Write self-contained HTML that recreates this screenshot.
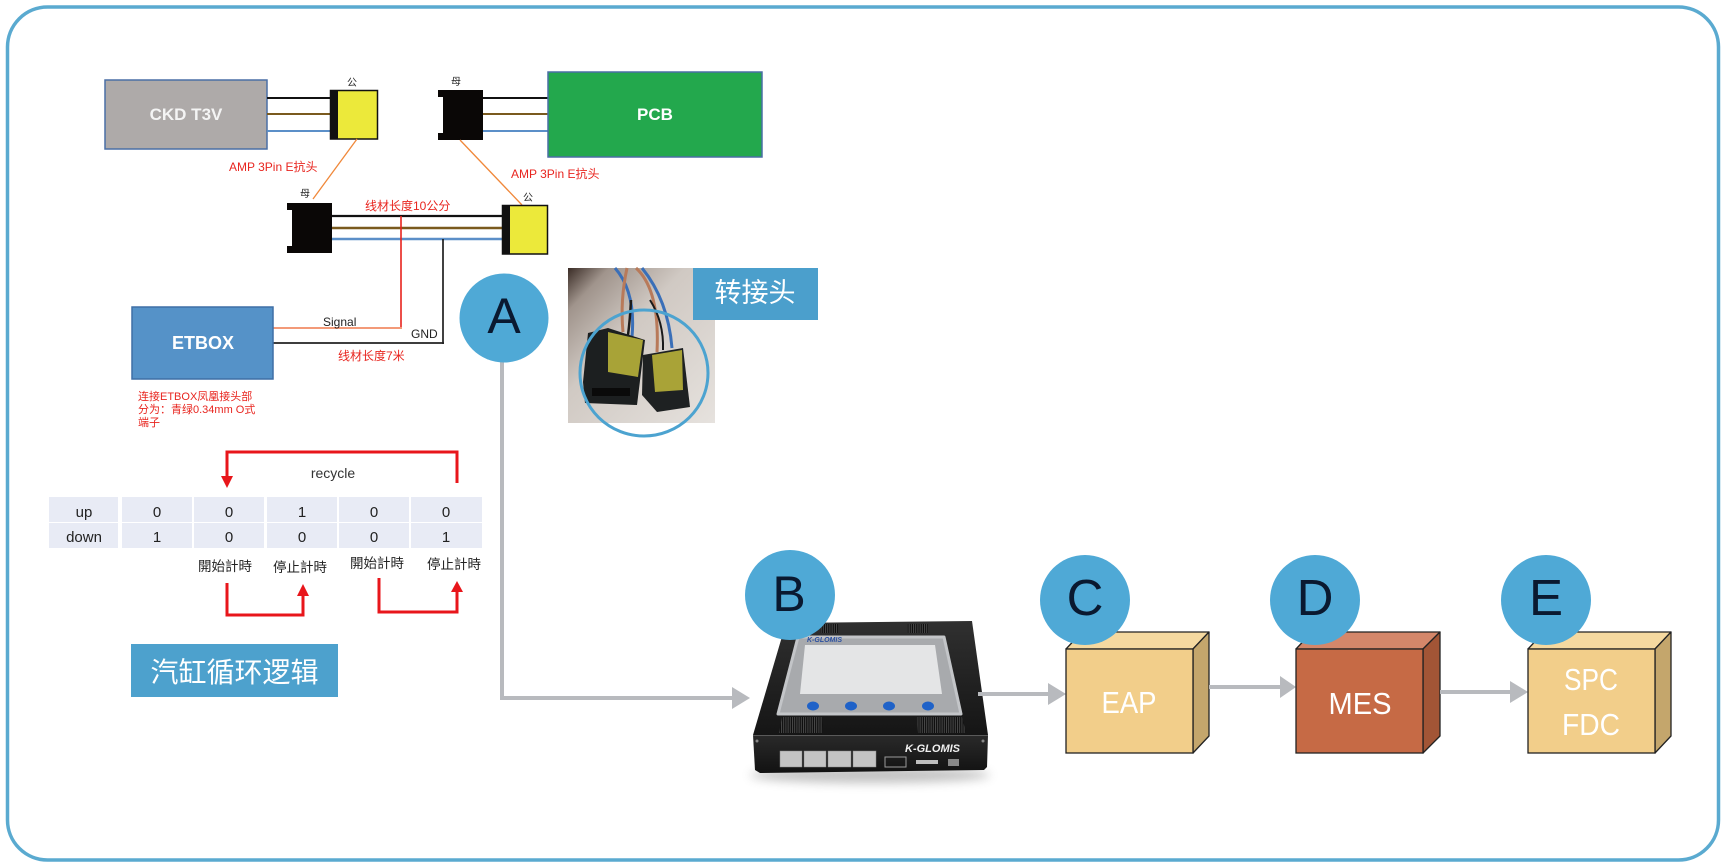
<!DOCTYPE html>
<html>
<head>
<meta charset="utf-8">
<style>
html,body{margin:0;padding:0;background:#fff;}
body{width:1728px;height:867px;overflow:hidden;}
svg{display:block;}
text{font-family:"Liberation Sans","Noto Sans CJK SC",sans-serif;}
</style>
</head>
<body>
<svg width="1728" height="867" viewBox="0 0 1728 867" xmlns="http://www.w3.org/2000/svg">
<defs>
  <linearGradient id="photoBg" x1="0" y1="0" x2="1" y2="1">
    <stop offset="0" stop-color="#3a2c26"/>
    <stop offset="0.14" stop-color="#a0948c"/>
    <stop offset="0.4" stop-color="#d0c9c3"/>
    <stop offset="1" stop-color="#e6e2de"/>
  </linearGradient>
  <linearGradient id="topFace" x1="0" y1="0" x2="0" y2="1">
    <stop offset="0" stop-color="#303030"/>
    <stop offset="1" stop-color="#151515"/>
  </linearGradient>
  <linearGradient id="frontFace" x1="0" y1="0" x2="0" y2="1">
    <stop offset="0" stop-color="#2a2a2a"/>
    <stop offset="1" stop-color="#121212"/>
  </linearGradient>
  <pattern id="vent" width="2.2" height="4" patternUnits="userSpaceOnUse">
    <rect width="1.1" height="4" fill="#4a4a4a"/>
    <rect x="1.1" width="1.1" height="4" fill="#0c0c0c"/>
  </pattern>
  <filter id="blur" x="-20%" y="-200%" width="140%" height="500%"><feGaussianBlur stdDeviation="5"/></filter>
</defs>

<!-- outer frame -->
<rect x="7.5" y="7" width="1711" height="853" rx="40" ry="40" fill="#fff" stroke="#5aaad0" stroke-width="3.5"/>

<!-- ===== wiring diagram ===== -->
<rect x="105" y="80" width="162" height="69" fill="#aeaaa9" stroke="#4a6fa5" stroke-width="1.5"/>
<text x="186" y="120" font-size="17" font-weight="bold" fill="#f4f4f4" text-anchor="middle">CKD T3V</text>

<line x1="267" y1="98" x2="331" y2="98" stroke="#111" stroke-width="2"/>
<line x1="267" y1="114" x2="331" y2="114" stroke="#7a5a1e" stroke-width="2"/>
<line x1="267" y1="131" x2="331" y2="131" stroke="#5b8fc8" stroke-width="2"/>

<rect x="330.5" y="90.5" width="47" height="48.5" fill="#ece93a" stroke="#111" stroke-width="1.5"/>
<rect x="330" y="90" width="8" height="49.5" fill="#111"/>
<text x="352" y="86" font-size="10" fill="#222" text-anchor="middle">公</text>

<path d="M438,90 H483 V140 H438 V133 H443 V97 H438 Z" fill="#0a0706"/>
<text x="456" y="85" font-size="10" fill="#222" text-anchor="middle">母</text>

<line x1="483" y1="98" x2="549" y2="98" stroke="#111" stroke-width="2"/>
<line x1="483" y1="114" x2="549" y2="114" stroke="#7a5a1e" stroke-width="2"/>
<line x1="483" y1="131" x2="549" y2="131" stroke="#5b8fc8" stroke-width="2"/>

<rect x="548" y="72" width="214" height="85" fill="#23a84d" stroke="#4a6fa5" stroke-width="1.5"/>
<text x="655" y="120" font-size="17" font-weight="bold" fill="#fff" text-anchor="middle">PCB</text>

<line x1="357" y1="139" x2="313" y2="199" stroke="#f0883a" stroke-width="1.3"/>
<line x1="460" y1="140" x2="522" y2="205" stroke="#f0883a" stroke-width="1.3"/>
<text x="229" y="171" font-size="12" fill="#e8251f">AMP 3Pin E抗头</text>
<text x="511" y="178" font-size="12" fill="#e8251f">AMP 3Pin E抗头</text>

<path d="M287,203 H332 V253 H287 V246 H292 V210 H287 Z" fill="#0a0706"/>
<text x="305" y="197" font-size="10" fill="#222" text-anchor="middle">母</text>

<line x1="332" y1="216" x2="503" y2="216" stroke="#111" stroke-width="2.2"/>
<line x1="332" y1="228" x2="503" y2="228" stroke="#7a5a1e" stroke-width="2.5"/>
<line x1="332" y1="239" x2="503" y2="239" stroke="#5b8fc8" stroke-width="2.5"/>

<rect x="502.5" y="205.5" width="45" height="48.5" fill="#ece93a" stroke="#111" stroke-width="1.5"/>
<rect x="502" y="205" width="8" height="49.5" fill="#111"/>
<text x="528" y="201" font-size="10" fill="#222" text-anchor="middle">公</text>

<text x="365" y="210" font-size="12" fill="#e8251f">线材长度10公分</text>

<line x1="401" y1="216" x2="401" y2="329" stroke="#e8231c" stroke-width="1.6"/>
<line x1="273" y1="328" x2="402" y2="328" stroke="#f39a78" stroke-width="2"/>
<line x1="443" y1="239" x2="443" y2="344" stroke="#111" stroke-width="1.6"/>
<line x1="273" y1="343" x2="444" y2="343" stroke="#222" stroke-width="1.8"/>
<text x="323" y="326" font-size="12" fill="#222">Signal</text>
<text x="411" y="338" font-size="12" fill="#222">GND</text>
<text x="338" y="360" font-size="12" fill="#e8251f">线材长度7米</text>

<rect x="132" y="307" width="141" height="72" fill="#5592c8" stroke="#3e6fa6" stroke-width="1.5"/>
<text x="203" y="349" font-size="18" font-weight="bold" fill="#fff" text-anchor="middle">ETBOX</text>
<text x="138" y="400" font-size="11" fill="#e8251f">连接ETBOX凤凰接头部</text>
<text x="138" y="413" font-size="11" fill="#e8251f">分为：青绿0.34mm O式</text>
<text x="138" y="426" font-size="11" fill="#e8251f">端子</text>

<!-- ===== photo ===== -->
<rect x="568" y="268" width="147" height="155" fill="url(#photoBg)"/>
<path d="M615,268 Q636,292 632,337" fill="none" stroke="#3a6fb8" stroke-width="3"/>
<path d="M627,268 Q620,300 623,332" fill="none" stroke="#b87a5a" stroke-width="3"/>
<path d="M631,300 Q630,320 628,335" fill="none" stroke="#1a1a1a" stroke-width="2.5"/>
<path d="M642,268 Q668,300 672,348" fill="none" stroke="#3a6fb8" stroke-width="3"/>
<path d="M636,268 Q660,290 657,352" fill="none" stroke="#b87a5a" stroke-width="3"/>
<path d="M650,300 Q664,322 663,350" fill="none" stroke="#1a1a1a" stroke-width="2"/>
<polygon points="588,333 608,328 645,340 637,405 585,403 583,382" fill="#1c1f20"/>
<polygon points="608,332 643,340 638,377 608,372" fill="#b8b13a" opacity="0.9"/>
<rect x="592" y="388" width="38" height="8" fill="#0a0a0a"/>
<polygon points="643,355 683,348 690,407 657,412 642,395" fill="#1e2122"/>
<polygon points="652,355 682,350 683,390 655,392" fill="#b8b13a" opacity="0.9"/>
<ellipse cx="644" cy="373" rx="64" ry="63" fill="none" stroke="#4ca3d0" stroke-width="3"/>

<rect x="693" y="268" width="125" height="52" fill="#4b9fcc"/>
<text x="755" y="302" font-size="27" fill="#fff" text-anchor="middle">转接头</text>

<!-- ===== cylinder logic ===== -->
<path d="M457,483 V452 H227 V478" fill="none" stroke="#e8161b" stroke-width="3"/>
<polygon points="221,476 233,476 227,488" fill="#e8161b"/>
<text x="333" y="478" font-size="14" fill="#333" text-anchor="middle">recycle</text>

<g fill="#e8ebf5">
  <rect x="49" y="497" width="69" height="25"/>
  <rect x="122" y="497" width="70" height="25"/>
  <rect x="194" y="497" width="70" height="25"/>
  <rect x="267" y="497" width="70" height="25"/>
  <rect x="339" y="497" width="70" height="25"/>
  <rect x="411" y="497" width="71" height="25"/>
  <rect x="49" y="523" width="69" height="25"/>
  <rect x="122" y="523" width="70" height="25"/>
  <rect x="194" y="523" width="70" height="25"/>
  <rect x="267" y="523" width="70" height="25"/>
  <rect x="339" y="523" width="70" height="25"/>
  <rect x="411" y="523" width="71" height="25"/>
</g>
<g font-size="15" fill="#222" text-anchor="middle">
  <text x="84" y="517">up</text>
  <text x="157" y="517">0</text>
  <text x="229" y="517">0</text>
  <text x="302" y="517">1</text>
  <text x="374" y="517">0</text>
  <text x="446" y="517">0</text>
  <text x="84" y="542">down</text>
  <text x="157" y="542">1</text>
  <text x="229" y="542">0</text>
  <text x="302" y="542">0</text>
  <text x="374" y="542">0</text>
  <text x="446" y="542">1</text>
</g>
<g font-size="13.5" fill="#222" text-anchor="middle">
  <text x="225" y="571">開始計時</text>
  <text x="300" y="572">停止計時</text>
  <text x="377" y="568">開始計時</text>
  <text x="454" y="569">停止計時</text>
</g>
<path d="M227,583 V615 H303 V595" fill="none" stroke="#e8161b" stroke-width="3"/>
<polygon points="297,596 309,596 303,584" fill="#e8161b"/>
<path d="M379,578 V612 H457 V591" fill="none" stroke="#e8161b" stroke-width="3"/>
<polygon points="451,592 463,592 457,581" fill="#e8161b"/>

<rect x="131" y="644" width="207" height="53" fill="#4da1cd"/>
<text x="234.5" y="682" font-size="28" fill="#fff" text-anchor="middle">汽缸循环逻辑</text>

<!-- ===== flow ===== -->
<path d="M502,350 V698 H734" fill="none" stroke="#b8babe" stroke-width="4"/>
<polygon points="732,687 750,698 732,709" fill="#b8babe"/>

<circle cx="504" cy="318" r="44.5" fill="#4fa9d6"/>
<text x="504" y="333" font-size="50" fill="#0a1930" text-anchor="middle">A</text>

<!-- device B -->
<ellipse cx="870" cy="775" rx="120" ry="8" fill="#777" opacity="0.45" filter="url(#blur)"/>
<polygon points="786,623 972,621 988,735 753,735" fill="url(#topFace)"/>
<polygon points="753,735 988,735 987,767 984,770 760,773 755,770" fill="url(#frontFace)"/>
<line x1="753" y1="735.5" x2="988" y2="735.5" stroke="#5a5a5a" stroke-width="1"/>
<rect x="820" y="624" width="18" height="9" fill="url(#vent)"/>
<rect x="907" y="624" width="22" height="9" fill="url(#vent)"/>
<polygon points="782,717 823,717 822,733 779,733" fill="url(#vent)"/>
<polygon points="917,717 962,717 966,733 918,733" fill="url(#vent)"/>
<polygon points="798,637 944,637 961,714 778,714" fill="#a8aaad" stroke="#c3c5c8" stroke-width="3" stroke-linejoin="round"/>
<polygon points="805,645 935,645 942,694 800,694" fill="#e4e5e6"/>
<text x="807" y="642" font-size="7" font-style="italic" font-weight="bold" fill="#2a4fa0">K-GLOMIS</text>
<g fill="#1f62c8">
  <ellipse cx="813" cy="706" rx="6" ry="4.5"/>
  <ellipse cx="851" cy="706" rx="6" ry="4.5"/>
  <ellipse cx="889" cy="706" rx="6" ry="4.5"/>
  <ellipse cx="928" cy="706" rx="6" ry="4.5"/>
</g>
<text x="905" y="752" font-size="11" font-style="italic" font-weight="bold" fill="#f0f0f0">K-GLOMIS</text>
<g fill="#c4c4c4" stroke="#888" stroke-width="0.5">
  <rect x="780" y="751" width="22" height="16"/>
  <rect x="804" y="751" width="22" height="16"/>
  <rect x="828" y="751" width="23" height="16"/>
  <rect x="853" y="751" width="23" height="16"/>
</g>
<rect x="885" y="757" width="21" height="10" fill="none" stroke="#9a9a9a" stroke-width="1"/>
<rect x="916" y="760" width="22" height="4" fill="#bdbdbd"/>
<rect x="948" y="759" width="11" height="7" fill="#888"/>
<circle cx="757" cy="741" r="1.5" fill="#888"/>
<circle cx="983" cy="741" r="1.5" fill="#888"/>

<circle cx="790" cy="595" r="45" fill="#4fa9d6"/>
<text x="789" y="611" font-size="50" fill="#0a1930" text-anchor="middle">B</text>

<line x1="978" y1="694" x2="1050" y2="694" stroke="#b8babe" stroke-width="4"/>
<polygon points="1048,683 1066,694 1048,705" fill="#b8babe"/>

<!-- C box (EAP) -->
<polygon points="1066,649 1082,632 1209,632 1193,649" fill="#f5d9a0" stroke="#222" stroke-width="1.3" stroke-linejoin="round"/>
<polygon points="1193,649 1209,632 1209,736 1193,753" fill="#c4a66c" stroke="#222" stroke-width="1.3" stroke-linejoin="round"/>
<rect x="1066" y="649" width="127" height="104" fill="#f2ce8a" stroke="#222" stroke-width="1.3"/>
<text x="1129" y="713" font-size="31" fill="#fff" text-anchor="middle" textLength="55" lengthAdjust="spacingAndGlyphs">EAP</text>
<circle cx="1085" cy="600" r="45" fill="#4fa9d6"/>
<text x="1085" y="615" font-size="51" fill="#0a1930" text-anchor="middle">C</text>

<line x1="1209" y1="687" x2="1282" y2="687" stroke="#b8babe" stroke-width="4"/>
<polygon points="1280,676 1296,687 1280,698" fill="#b8babe"/>

<!-- D box (MES) -->
<polygon points="1296,649 1312,632 1440,632 1423,649" fill="#d4876a" stroke="#222" stroke-width="1.3" stroke-linejoin="round"/>
<polygon points="1423,649 1440,632 1440,736 1423,753" fill="#a25536" stroke="#222" stroke-width="1.3" stroke-linejoin="round"/>
<rect x="1296" y="649" width="127" height="104" fill="#c66a45" stroke="#222" stroke-width="1.3"/>
<text x="1360" y="714" font-size="31" fill="#fff" text-anchor="middle" textLength="63" lengthAdjust="spacingAndGlyphs">MES</text>
<circle cx="1315" cy="600" r="45" fill="#4fa9d6"/>
<text x="1315" y="615" font-size="51" fill="#0a1930" text-anchor="middle">D</text>

<line x1="1440" y1="692" x2="1512" y2="692" stroke="#b8babe" stroke-width="4"/>
<polygon points="1510,681 1528,692 1510,703" fill="#b8babe"/>

<!-- E box (SPC FDC) -->
<polygon points="1528,649 1544,632 1671,632 1655,649" fill="#f5d9a0" stroke="#222" stroke-width="1.3" stroke-linejoin="round"/>
<polygon points="1655,649 1671,632 1671,736 1655,753" fill="#c4a66c" stroke="#222" stroke-width="1.3" stroke-linejoin="round"/>
<rect x="1528" y="649" width="127" height="104" fill="#f2ce8a" stroke="#222" stroke-width="1.3"/>
<text x="1591" y="690" font-size="31" fill="#fff" text-anchor="middle" textLength="54" lengthAdjust="spacingAndGlyphs">SPC</text>
<text x="1591" y="735" font-size="31" fill="#fff" text-anchor="middle" textLength="58" lengthAdjust="spacingAndGlyphs">FDC</text>
<circle cx="1546" cy="600" r="45" fill="#4fa9d6"/>
<text x="1546" y="615" font-size="51" fill="#0a1930" text-anchor="middle">E</text>

</svg>
</body>
</html>
